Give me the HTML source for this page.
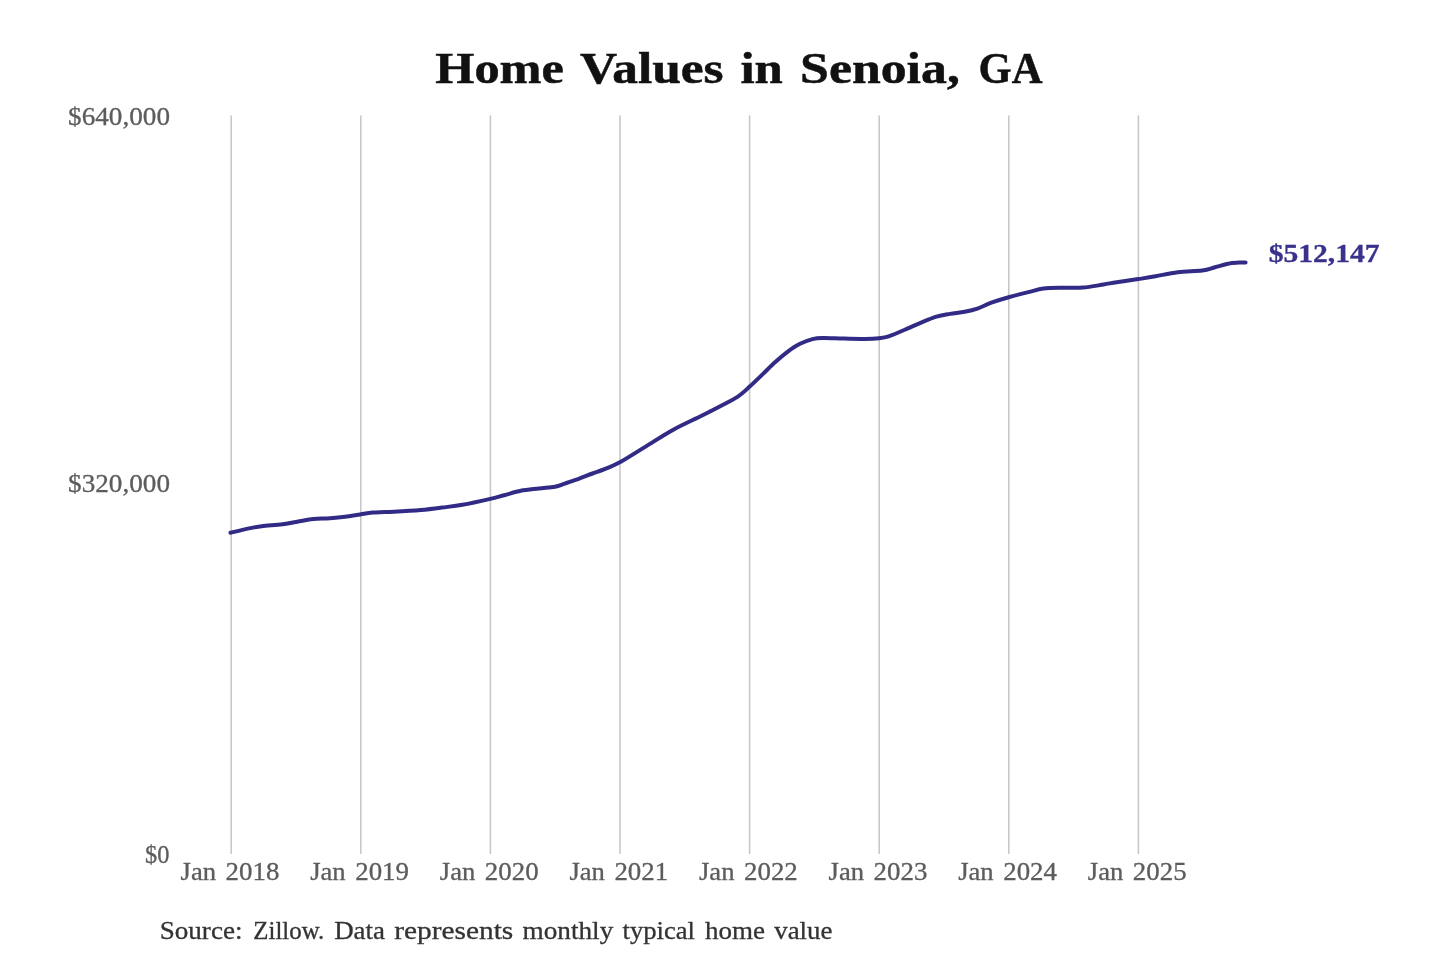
<!DOCTYPE html>
<html><head><meta charset="utf-8"><style>
html,body{margin:0;padding:0;background:#fff;overflow:hidden;}
svg{display:block;filter:blur(0.35px);}
text{font-family:"Liberation Serif", serif;}
</style></head><body>
<svg width="1440" height="960" viewBox="0 0 1440 960">
<rect width="1440" height="960" fill="#fff"/>
<text x="435.30" y="82.80" font-size="44.30" font-weight="bold" fill="#111" stroke="#111" stroke-width="0.5" textLength="128.48" lengthAdjust="spacingAndGlyphs">Home</text>
<text x="579.90" y="82.80" font-size="44.30" font-weight="bold" fill="#111" stroke="#111" stroke-width="0.5" textLength="143.72" lengthAdjust="spacingAndGlyphs">Values</text>
<text x="740.40" y="82.80" font-size="44.30" font-weight="bold" fill="#111" stroke="#111" stroke-width="0.5" textLength="42.40" lengthAdjust="spacingAndGlyphs">in</text>
<text x="800.10" y="82.80" font-size="44.30" font-weight="bold" fill="#111" stroke="#111" stroke-width="0.5" textLength="159.80" lengthAdjust="spacingAndGlyphs">Senoia,</text>
<text x="978.60" y="82.80" font-size="44.30" font-weight="bold" fill="#111" stroke="#111" stroke-width="0.5" textLength="63.90" lengthAdjust="spacingAndGlyphs">GA</text>
<g stroke="#c8c8c8" stroke-width="1.6">
<line x1="231.2" y1="115.5" x2="231.2" y2="854" />
<line x1="360.8" y1="115.5" x2="360.8" y2="854" />
<line x1="490.4" y1="115.5" x2="490.4" y2="854" />
<line x1="620.0" y1="115.5" x2="620.0" y2="854" />
<line x1="749.6" y1="115.5" x2="749.6" y2="854" />
<line x1="879.2" y1="115.5" x2="879.2" y2="854" />
<line x1="1008.8" y1="115.5" x2="1008.8" y2="854" />
<line x1="1138.4" y1="115.5" x2="1138.4" y2="854" />
</g>
<text x="68.10" y="124.70" font-size="24.80" font-weight="normal" fill="#5c5c5c" stroke="#5c5c5c" stroke-width="0.3" textLength="101.90" lengthAdjust="spacingAndGlyphs">$640,000</text>
<text x="68.10" y="492.30" font-size="24.80" font-weight="normal" fill="#5c5c5c" stroke="#5c5c5c" stroke-width="0.3" textLength="101.90" lengthAdjust="spacingAndGlyphs">$320,000</text>
<text x="145.00" y="863.30" font-size="24.80" font-weight="normal" fill="#5c5c5c" stroke="#5c5c5c" stroke-width="0.3" textLength="24.40" lengthAdjust="spacingAndGlyphs">$0</text>
<text x="180.60" y="880.00" font-size="24.80" font-weight="normal" fill="#5c5c5c" stroke="#5c5c5c" stroke-width="0.3" textLength="35.50" lengthAdjust="spacingAndGlyphs">Jan</text>
<text x="225.60" y="880.00" font-size="24.80" font-weight="normal" fill="#5c5c5c" stroke="#5c5c5c" stroke-width="0.3" textLength="53.80" lengthAdjust="spacingAndGlyphs">2018</text>
<text x="310.20" y="880.00" font-size="24.80" font-weight="normal" fill="#5c5c5c" stroke="#5c5c5c" stroke-width="0.3" textLength="35.50" lengthAdjust="spacingAndGlyphs">Jan</text>
<text x="355.20" y="880.00" font-size="24.80" font-weight="normal" fill="#5c5c5c" stroke="#5c5c5c" stroke-width="0.3" textLength="53.80" lengthAdjust="spacingAndGlyphs">2019</text>
<text x="439.80" y="880.00" font-size="24.80" font-weight="normal" fill="#5c5c5c" stroke="#5c5c5c" stroke-width="0.3" textLength="35.50" lengthAdjust="spacingAndGlyphs">Jan</text>
<text x="484.80" y="880.00" font-size="24.80" font-weight="normal" fill="#5c5c5c" stroke="#5c5c5c" stroke-width="0.3" textLength="53.80" lengthAdjust="spacingAndGlyphs">2020</text>
<text x="569.40" y="880.00" font-size="24.80" font-weight="normal" fill="#5c5c5c" stroke="#5c5c5c" stroke-width="0.3" textLength="35.50" lengthAdjust="spacingAndGlyphs">Jan</text>
<text x="614.40" y="880.00" font-size="24.80" font-weight="normal" fill="#5c5c5c" stroke="#5c5c5c" stroke-width="0.3" textLength="53.80" lengthAdjust="spacingAndGlyphs">2021</text>
<text x="699.00" y="880.00" font-size="24.80" font-weight="normal" fill="#5c5c5c" stroke="#5c5c5c" stroke-width="0.3" textLength="35.50" lengthAdjust="spacingAndGlyphs">Jan</text>
<text x="744.00" y="880.00" font-size="24.80" font-weight="normal" fill="#5c5c5c" stroke="#5c5c5c" stroke-width="0.3" textLength="53.80" lengthAdjust="spacingAndGlyphs">2022</text>
<text x="828.60" y="880.00" font-size="24.80" font-weight="normal" fill="#5c5c5c" stroke="#5c5c5c" stroke-width="0.3" textLength="35.50" lengthAdjust="spacingAndGlyphs">Jan</text>
<text x="873.60" y="880.00" font-size="24.80" font-weight="normal" fill="#5c5c5c" stroke="#5c5c5c" stroke-width="0.3" textLength="53.80" lengthAdjust="spacingAndGlyphs">2023</text>
<text x="958.20" y="880.00" font-size="24.80" font-weight="normal" fill="#5c5c5c" stroke="#5c5c5c" stroke-width="0.3" textLength="35.50" lengthAdjust="spacingAndGlyphs">Jan</text>
<text x="1003.20" y="880.00" font-size="24.80" font-weight="normal" fill="#5c5c5c" stroke="#5c5c5c" stroke-width="0.3" textLength="53.80" lengthAdjust="spacingAndGlyphs">2024</text>
<text x="1087.80" y="880.00" font-size="24.80" font-weight="normal" fill="#5c5c5c" stroke="#5c5c5c" stroke-width="0.3" textLength="35.50" lengthAdjust="spacingAndGlyphs">Jan</text>
<text x="1132.80" y="880.00" font-size="24.80" font-weight="normal" fill="#5c5c5c" stroke="#5c5c5c" stroke-width="0.3" textLength="53.80" lengthAdjust="spacingAndGlyphs">2025</text>
<path d="M230.5 532.8 C233.4 532.1 242.6 529.7 247.8 528.6 C253.0 527.5 255.9 527.0 261.7 526.2 C267.5 525.5 276.2 525.0 282.5 524.2 C288.8 523.4 294.3 522.1 299.4 521.2 C304.5 520.4 308.2 519.6 313.3 519.1 C318.4 518.6 324.7 518.6 330.0 518.2 C335.3 517.8 339.9 517.4 345.0 516.8 C350.1 516.2 355.7 515.1 360.3 514.4 C364.9 513.7 367.2 513.1 372.8 512.6 C378.4 512.1 385.6 512.1 393.6 511.7 C401.6 511.3 412.8 510.7 420.8 510.0 C428.8 509.3 434.8 508.5 441.7 507.6 C448.6 506.7 454.4 506.2 462.5 504.8 C470.6 503.4 483.4 500.5 490.3 498.9 C497.2 497.3 499.1 496.5 504.2 495.2 C509.3 493.9 515.0 491.9 520.8 490.8 C526.6 489.7 533.2 489.2 538.9 488.5 C544.6 487.8 550.7 487.5 555.0 486.7 C559.3 485.9 560.8 484.9 564.7 483.6 C568.6 482.3 574.0 480.4 578.6 478.8 C583.2 477.1 587.9 475.2 592.5 473.5 C597.1 471.8 601.8 470.2 606.4 468.3 C611.0 466.4 613.8 465.7 620.3 462.1 C626.8 458.5 636.8 452.0 645.6 446.6 C654.4 441.2 664.0 434.8 673.3 429.7 C682.5 424.6 693.5 419.8 701.1 416.0 C708.7 412.2 712.7 410.2 718.8 407.0 C724.8 403.8 732.3 400.3 737.5 396.9 C742.7 393.4 745.8 390.1 750.0 386.3 C754.2 382.6 758.3 378.4 762.5 374.4 C766.7 370.4 770.8 366.1 775.0 362.3 C779.2 358.5 783.3 354.9 787.5 351.8 C791.7 348.7 795.8 345.9 800.0 343.8 C804.2 341.7 808.6 340.1 812.5 339.1 C816.4 338.1 818.0 338.1 823.3 338.0 C828.6 337.9 837.2 338.5 844.2 338.6 C851.2 338.8 859.2 339.0 865.0 338.9 C870.8 338.8 875.0 338.6 878.9 338.2 C882.8 337.8 884.0 337.9 888.6 336.4 C893.2 334.8 901.4 331.2 906.7 328.9 C912.0 326.6 915.7 324.8 920.6 322.8 C925.5 320.8 931.5 318.2 936.4 316.7 C941.3 315.2 945.3 314.7 950.0 313.9 C954.7 313.1 960.1 312.7 964.7 311.8 C969.3 310.9 973.0 310.1 977.4 308.6 C981.8 307.1 986.1 304.6 991.3 302.7 C996.5 300.8 1002.2 299.0 1008.6 297.2 C1015.0 295.4 1023.6 293.3 1029.4 291.9 C1035.2 290.4 1037.9 289.2 1043.3 288.5 C1048.7 287.8 1055.4 287.8 1062.0 287.7 C1068.6 287.6 1075.9 288.1 1082.8 287.6 C1089.7 287.1 1097.9 285.4 1103.6 284.5 C1109.2 283.6 1110.9 283.1 1116.7 282.2 C1122.5 281.3 1131.8 280.1 1138.3 279.1 C1144.8 278.1 1149.0 277.5 1155.6 276.3 C1162.2 275.1 1170.0 273.1 1177.8 272.2 C1185.6 271.2 1196.0 271.4 1202.2 270.6 C1208.4 269.8 1211.1 268.3 1214.9 267.3 C1218.7 266.3 1222.2 265.2 1225.0 264.5 C1227.8 263.8 1229.7 263.2 1232.0 262.9 C1234.3 262.6 1236.7 262.7 1239.0 262.6 C1241.3 262.6 1244.5 262.6 1245.6 262.6" fill="none" stroke="#312b85" stroke-width="4" stroke-linecap="round" stroke-linejoin="round"/>
<text x="1268.70" y="261.80" font-size="24.80" font-weight="bold" fill="#38328c" stroke="#38328c" stroke-width="0.3" textLength="110.90" lengthAdjust="spacingAndGlyphs">$512,147</text>
<text x="159.70" y="938.70" font-size="24.80" font-weight="normal" fill="#333" stroke="#333" stroke-width="0.3" textLength="82.79" lengthAdjust="spacingAndGlyphs">Source:</text>
<text x="253.30" y="938.70" font-size="24.80" font-weight="normal" fill="#333" stroke="#333" stroke-width="0.3" textLength="70.89" lengthAdjust="spacingAndGlyphs">Zillow.</text>
<text x="334.20" y="938.70" font-size="24.80" font-weight="normal" fill="#333" stroke="#333" stroke-width="0.3" textLength="50.79" lengthAdjust="spacingAndGlyphs">Data</text>
<text x="394.20" y="938.70" font-size="24.80" font-weight="normal" fill="#333" stroke="#333" stroke-width="0.3" textLength="119.09" lengthAdjust="spacingAndGlyphs">represents</text>
<text x="522.50" y="938.70" font-size="24.80" font-weight="normal" fill="#333" stroke="#333" stroke-width="0.3" textLength="90.81" lengthAdjust="spacingAndGlyphs">monthly</text>
<text x="622.50" y="938.70" font-size="24.80" font-weight="normal" fill="#333" stroke="#333" stroke-width="0.3" textLength="72.50" lengthAdjust="spacingAndGlyphs">typical</text>
<text x="705.00" y="938.70" font-size="24.80" font-weight="normal" fill="#333" stroke="#333" stroke-width="0.3" textLength="59.99" lengthAdjust="spacingAndGlyphs">home</text>
<text x="774.20" y="938.70" font-size="24.80" font-weight="normal" fill="#333" stroke="#333" stroke-width="0.3" textLength="58.29" lengthAdjust="spacingAndGlyphs">value</text>
</svg>
</body></html>
